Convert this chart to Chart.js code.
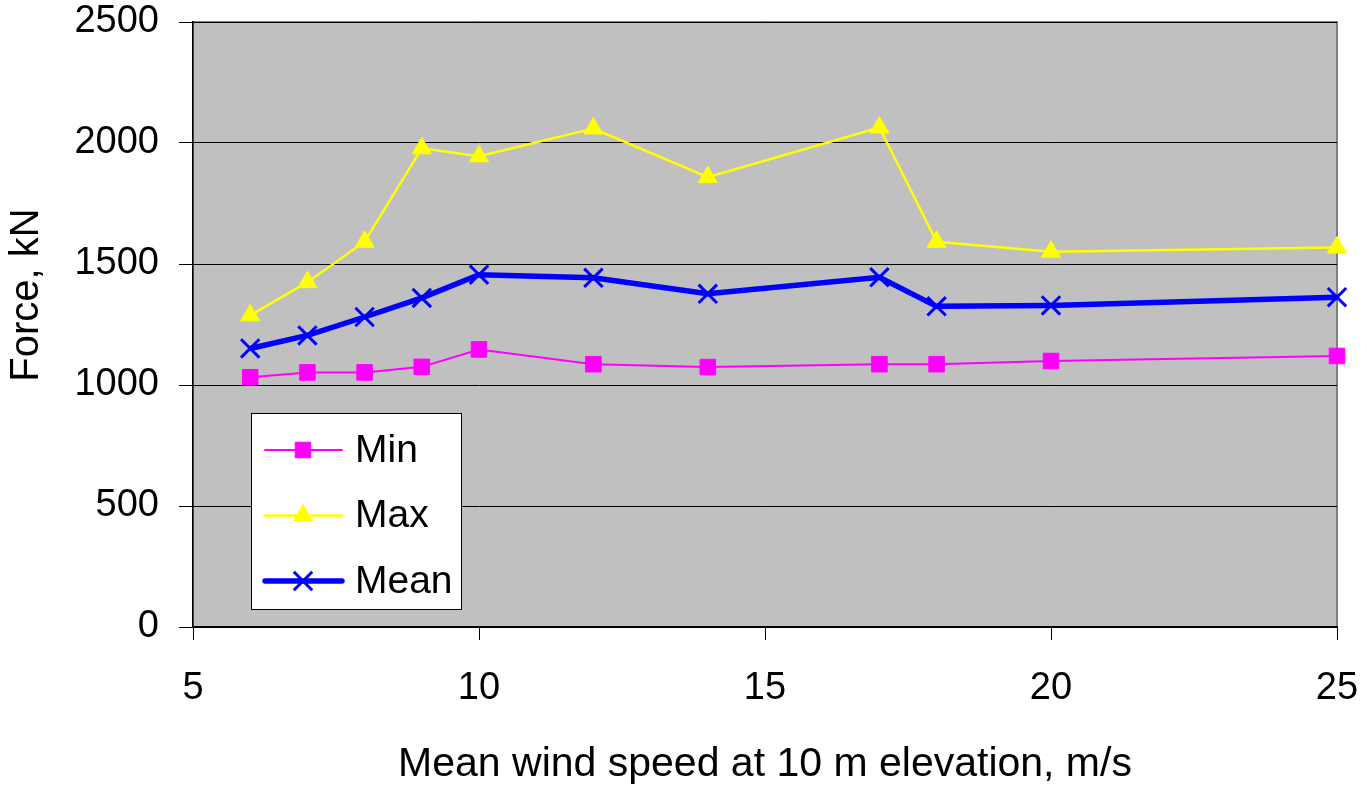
<!DOCTYPE html>
<html>
<head>
<meta charset="utf-8">
<title>Force vs mean wind speed</title>
<script src="https://cdn.jsdelivr.net/npm/chart.js@4.4.0/dist/chart.umd.min.js"></script>
<style>
    html, body { margin: 0; padding: 0; background: #fff; }
    #wrap { width: 1367px; height: 787px; }
</style>
</head>
<body>
<div id="wrap"><canvas id="forceChart" width="1367" height="787"></canvas></div>
<script>
// 数据
const windSpeed = [6, 7, 8, 9, 10, 12, 14, 17, 18, 20, 25];
const minForce  = [1032, 1052, 1052, 1075, 1147, 1086, 1074, 1086, 1086, 1099, 1120];
const maxForce  = [1288, 1425, 1592, 1978, 1945, 2060, 1859, 2064, 1592, 1551, 1568];
const meanForce = [1151, 1205, 1281, 1360, 1456, 1443, 1377, 1445, 1325, 1329, 1363];
const xTicks = [5, 10, 15, 20, 25];
const yTicks = [0, 500, 1000, 1500, 2000, 2500];
const xTitle = 'Mean wind speed at 10 m elevation, m/s';
const yTitle = 'Force, kN';

(function() {
    'use strict';

    const FONT = '"Liberation Sans", Arial, sans-serif';

    function toPoints(values) {
        return windSpeed.map((x, i) => ({ x: x, y: values[i] }));
    }

    // 灰色绘图区背景和边框
    const plotBackground = {
        id: 'plotBackground',
        beforeDraw(chart) {
            const { ctx, chartArea: a } = chart;
            ctx.save();
            ctx.fillStyle = '#C0C0C0';
            ctx.fillRect(a.left, a.top, a.right - a.left, a.bottom - a.top);
            ctx.strokeStyle = '#808080';
            ctx.lineWidth = 2;
            ctx.strokeRect(a.left, a.top, a.right - a.left, a.bottom - a.top);
            ctx.restore();
        }
    };

    // 图内图例
    const boxLegend = {
        id: 'boxLegend',
        afterDatasetsDraw(chart) {
            const ctx = chart.ctx;
            const left = 251, top = 413, w = 210, h = 196;
            ctx.save();
            ctx.fillStyle = '#fff';
            ctx.fillRect(left, top, w, h);
            ctx.strokeStyle = '#000';
            ctx.lineWidth = 1;
            ctx.strokeRect(left + 0.5, top + 0.5, w, h);

            chart.data.datasets.forEach((ds, i) => {
                const y = 450 + i * 65.5;
                ctx.strokeStyle = ds.borderColor;
                ctx.lineWidth = ds.borderWidth;
                ctx.lineCap = 'round';
                ctx.beginPath();
                ctx.moveTo(265, y);
                ctx.lineTo(342, y);
                ctx.stroke();

                ctx.fillStyle = ds.pointBackgroundColor;
                ctx.strokeStyle = ds.pointBorderColor;
                ctx.lineWidth = ds.pointBorderWidth;
                ctx.lineCap = 'butt';
                Chart.helpers.drawPoint(ctx, {
                    pointStyle: ds.pointStyle,
                    radius: ds.pointRadius,
                    borderWidth: ds.pointBorderWidth,
                    rotation: 0
                }, 303, y);

                ctx.fillStyle = '#000';
                ctx.font = '39px ' + FONT;
                ctx.textAlign = 'left';
                ctx.textBaseline = 'middle';
                ctx.fillText(ds.label, 355, y + 1);
            });
            ctx.restore();
        }
    };

    // 坐标轴标题
    const axisTitles = {
        id: 'axisTitles',
        afterDraw(chart) {
            const { ctx, chartArea: a } = chart;
            ctx.save();
            ctx.fillStyle = '#000';
            ctx.font = '41px ' + FONT;
            ctx.textAlign = 'center';
            ctx.textBaseline = 'alphabetic';
            ctx.fillText(xTitle, (a.left + a.right) / 2, 776);
            ctx.font = '40px ' + FONT;
            ctx.translate(38, 295);
            ctx.rotate(-Math.PI / 2);
            ctx.fillText(yTitle, 0, 0);
            ctx.restore();
        }
    };

    const ctx = document.getElementById('forceChart').getContext('2d');

    new Chart(ctx, {
        type: 'line',
        data: {
            datasets: [{
                label: 'Min',
                data: toPoints(minForce),
                borderColor: '#FF00FF',
                borderWidth: 2,
                pointStyle: 'rect',
                pointRadius: 11,
                pointBackgroundColor: '#FF00FF',
                pointBorderColor: '#FF00FF',
                pointBorderWidth: 1,
                tension: 0,
                clip: false
            }, {
                label: 'Max',
                data: toPoints(maxForce),
                borderColor: '#FFFF00',
                borderWidth: 2.5,
                pointStyle: 'triangle',
                pointRadius: 11,
                pointBackgroundColor: '#FFFF00',
                pointBorderColor: '#FFFF00',
                pointBorderWidth: 1,
                tension: 0,
                clip: false
            }, {
                label: 'Mean',
                data: toPoints(meanForce),
                borderColor: '#0000FF',
                borderWidth: 5.5,
                pointStyle: 'crossRot',
                pointRadius: 13,
                pointBackgroundColor: '#0000FF',
                pointBorderColor: '#0000FF',
                pointBorderWidth: 3,
                tension: 0,
                clip: false
            }]
        },
        options: {
            responsive: false,
            animation: false,
            devicePixelRatio: 1,
            layout: {
                padding: { top: 22, right: 30, left: 0, bottom: 0 }
            },
            plugins: {
                legend: { display: false },
                tooltip: { enabled: false }
            },
            scales: {
                x: {
                    type: 'linear',
                    min: xTicks[0],
                    max: xTicks[xTicks.length - 1],
                    afterBuildTicks: s => { s.ticks = xTicks.map(v => ({ value: v })); },
                    afterFit: s => {
                        s.height = 160;
                        s.paddingLeft = 0;
                        s.paddingRight = 0;
                    },
                    grid: {
                        drawOnChartArea: false,
                        drawTicks: true,
                        tickLength: 13,
                        color: '#000',
                        lineWidth: 1
                    },
                    border: { display: true, color: '#000', width: 1.5 },
                    ticks: {
                        color: '#000',
                        padding: 26,
                        maxRotation: 0,
                        callback: v => String(v),
                        font: { family: FONT, size: 38 }
                    }
                },
                y: {
                    min: yTicks[0],
                    max: yTicks[yTicks.length - 1],
                    afterBuildTicks: s => { s.ticks = yTicks.map(v => ({ value: v })); },
                    afterFit: s => {
                        s.width = 193;
                        s.paddingTop = 0;
                        s.paddingBottom = 0;
                    },
                    grid: {
                        drawTicks: true,
                        tickLength: 14,
                        color: '#000',
                        lineWidth: 1
                    },
                    border: { display: true, color: '#000', width: 1.5 },
                    ticks: {
                        color: '#000',
                        padding: 20,
                        callback: v => String(v),
                        font: { family: FONT, size: 38 }
                    }
                }
            }
        },
        plugins: [plotBackground, boxLegend, axisTitles]
    });
})();
</script>
</body>
</html>
